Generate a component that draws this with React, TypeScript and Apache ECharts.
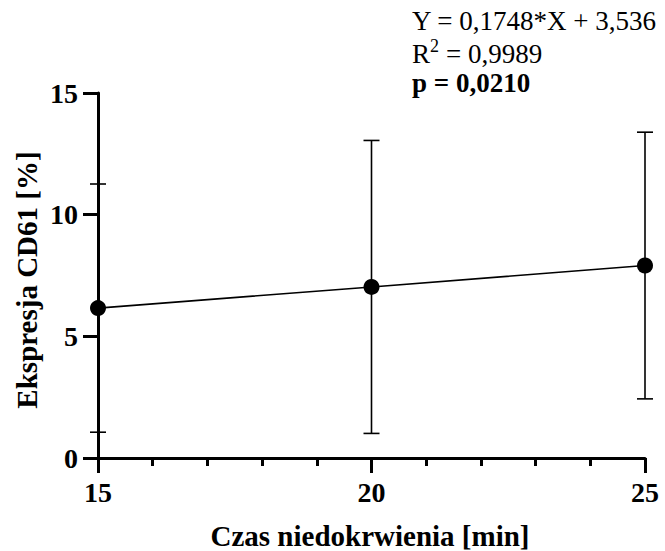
import React, { useEffect, useRef } from "react";
import * as echarts from "echarts";

// Ischaemia time [min] and mean CD61 expression [%] with SD
const times = [15, 20, 25];
const means = [6.16, 7.03, 7.91];
const sds = [5.1, 6.02, 5.48];

const xTicks = { min: 15, max: 25, step: 5 };
const yTicks = { min: 0, max: 15, step: 5 };

const equationLine = "Y = 0,1748*X + 3,536";
const r2Value = "= 0,9989";
const pLine = "p = 0,0210";

const FONT = "'Times New Roman', 'Liberation Serif', serif";

export default function App() {
  const ref = useRef<HTMLDivElement>(null);

  useEffect(() => {
    if (!ref.current) return;
    const chart = echarts.init(ref.current, undefined, { renderer: "svg" });

    const meanData = times.map((t, i) => [t, means[i]]);
    const barData = times.map((t, i) => [t, means[i] - sds[i], means[i] + sds[i]]);

    const noteStyle = (text: string, extra: Record<string, unknown> = {}) => ({
      text,
      fontSize: 27,
      lineHeight: 27,
      fontFamily: FONT,
      fill: "#000",
      align: "left",
      verticalAlign: "middle",
      ...extra,
    });

    chart.setOption({
      animation: false,
      backgroundColor: "#fff",
      grid: { left: 98, right: 20, top: 93, bottom: 93, containLabel: false },
      xAxis: {
        type: "value",
        min: xTicks.min,
        max: xTicks.max,
        interval: xTicks.step,
        axisLine: { lineStyle: { color: "#000", width: 3 } },
        axisTick: { length: 15, lineStyle: { color: "#000", width: 3 } },
        minorTick: { show: true, splitNumber: 5, length: 8, lineStyle: { color: "#000", width: 3 } },
        splitLine: { show: false },
        axisLabel: { color: "#000", fontSize: 28, fontWeight: "bold", fontFamily: FONT, margin: 20 },
      },
      yAxis: {
        type: "value",
        min: yTicks.min,
        max: yTicks.max,
        interval: yTicks.step,
        axisLine: { show: true, lineStyle: { color: "#000", width: 3 } },
        axisTick: { show: true, length: 15, lineStyle: { color: "#000", width: 3 } },
        splitLine: { show: false },
        axisLabel: { color: "#000", fontSize: 28, fontWeight: "bold", fontFamily: FONT, margin: 20 },
      },
      series: [
        {
          type: "custom",
          data: barData,
          z: 3,
          renderItem: (_params: any, api: any) => {
            const x = api.value(0);
            const top = api.coord([x, api.value(2)]);
            const bot = api.coord([x, api.value(1)]);
            const half = 8;
            const style = { stroke: "#000", lineWidth: 1.6 };
            return {
              type: "group",
              children: [
                { type: "line", shape: { x1: top[0], y1: top[1], x2: bot[0], y2: bot[1] }, style },
                { type: "line", shape: { x1: top[0] - half, y1: top[1], x2: top[0] + half, y2: top[1] }, style },
                { type: "line", shape: { x1: bot[0] - half, y1: bot[1], x2: bot[0] + half, y2: bot[1] }, style },
              ],
            };
          },
        },
        {
          type: "line",
          data: meanData,
          z: 4,
          symbol: "circle",
          symbolSize: 16,
          itemStyle: { color: "#000" },
          lineStyle: { color: "#000", width: 1.6 },
        },
      ],
      graphic: [
        {
          type: "text",
          x: 27,
          y: 280,
          rotation: Math.PI / 2,
          style: {
            text: "Ekspresja CD61 [%]",
            fontSize: 29,
            fontWeight: "bold",
            fontFamily: FONT,
            fill: "#000",
            align: "center",
            verticalAlign: "middle",
          },
        },
        {
          type: "text",
          x: 370,
          y: 536,
          style: {
            text: "Czas niedokrwienia [min]",
            fontSize: 29,
            fontWeight: "bold",
            fontFamily: FONT,
            fill: "#000",
            align: "center",
            verticalAlign: "middle",
          },
        },
        { type: "text", x: 412, y: 21, style: noteStyle(equationLine) },
        { type: "text", x: 412, y: 54, style: noteStyle("R") },
        { type: "text", x: 430, y: 46, style: noteStyle("2", { fontSize: 18, lineHeight: 14 }) },
        { type: "text", x: 446, y: 54, style: noteStyle(r2Value) },
        { type: "text", x: 412, y: 83, style: noteStyle(pLine, { fontWeight: "bold" }) },
      ],
    });

    return () => chart.dispose();
  }, []);

  return (
    <div
      ref={ref}
      style={{ position: "fixed", left: 0, top: 0, width: 665, height: 551, background: "#fff" }}
    />
  );
}
